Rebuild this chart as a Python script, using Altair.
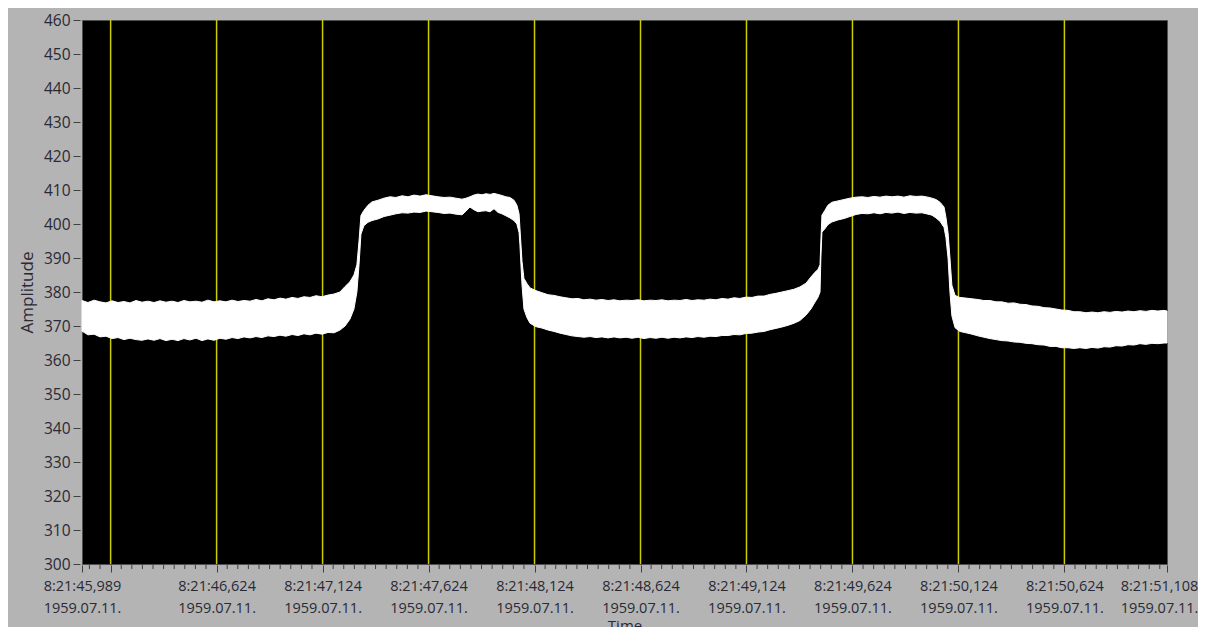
import altair as alt
import pandas as pd

# time of each sample, milliseconds after 8:21:00 (1959.07.11.)
t_ms = [45989, 46017, 46046, 46074, 46102, 46131, 46159, 46187, 46215, 46244,
        46272, 46300, 46329, 46357, 46385, 46414, 46442, 46470, 46498, 46527,
        46555, 46583, 46612, 46640, 46668, 46697, 46725, 46753, 46782, 46810,
        46838, 46866, 46895, 46923, 46951, 46980, 47008, 47036, 47065, 47093,
        47121, 47150, 47178, 47206, 47230, 47253, 47272, 47286, 47296, 47305,
        47319, 47338, 47357, 47386, 47414, 47442, 47470, 47499, 47527, 47555,
        47584, 47612, 47640, 47669, 47697, 47725, 47753, 47782, 47801, 47819,
        47838, 47857, 47876, 47895, 47914, 47933, 47952, 47970, 47989, 48008,
        48027, 48041, 48051, 48055, 48060, 48065, 48074, 48088, 48103, 48131,
        48159, 48188, 48216, 48244, 48272, 48301, 48329, 48357, 48386, 48414,
        48442, 48471, 48499, 48527, 48556, 48584, 48612, 48640, 48669, 48697,
        48725, 48754, 48782, 48810, 48839, 48867, 48895, 48924, 48952, 48980,
        49008, 49037, 49065, 49093, 49122, 49150, 49178, 49207, 49235, 49263,
        49291, 49320, 49348, 49376, 49405, 49428, 49447, 49461, 49471, 49475,
        49480, 49494, 49508, 49527, 49556, 49584, 49612, 49641, 49669, 49697,
        49725, 49754, 49782, 49810, 49839, 49867, 49895, 49924, 49952, 49980,
        49999, 50018, 50037, 50056, 50065, 50075, 50084, 50093, 50108, 50131,
        50160, 50188, 50216, 50244, 50273, 50301, 50329, 50358, 50386, 50414,
        50443, 50471, 50499, 50528, 50556, 50584, 50612, 50641, 50669, 50697,
        50726, 50754, 50782, 50811, 50839, 50867, 50896, 50924, 50952, 50980,
        51009, 51037, 51065, 51094, 51108]

# upper envelope of the amplitude trace
upper = [377.5, 376.9, 377.6, 377.1, 376.8, 377.4, 376.9, 377.2, 376.8, 377.5,
         377.0, 377.3, 376.9, 377.4, 377.0, 377.3, 376.9, 377.5, 377.1, 377.3,
         377.0, 377.6, 377.1, 377.4, 377.1, 377.6, 377.2, 377.5, 377.3, 377.8,
         377.4, 378.0, 377.7, 378.2, 377.9, 378.4, 378.1, 378.6, 378.4, 378.9,
         378.6, 379.1, 379.4, 380.0, 381.6, 383.0, 385.0, 388.0, 395.0, 402.5,
         404.0, 405.5, 406.5, 407.0, 407.6, 408.0, 407.8, 408.3, 408.0, 408.5,
         408.2, 408.6, 408.3, 408.0, 407.8, 407.9, 407.6, 407.3, 407.6, 408.0,
         408.5, 408.8, 408.6, 408.9, 408.7, 409.0, 408.7, 408.4, 408.0, 407.8,
         407.0, 405.5, 403.0, 399.0, 394.0, 389.0, 384.0, 382.5, 381.2, 380.4,
         379.8, 379.2, 379.0, 378.6, 378.3, 378.0, 378.1, 377.7, 377.9, 377.6,
         377.8, 377.5, 377.7, 377.4, 377.6, 377.5, 377.7, 377.4, 377.6, 377.5,
         377.7, 377.4, 377.6, 377.5, 377.8, 377.5, 377.7, 377.6, 377.9, 377.7,
         378.1, 377.9, 378.3, 378.1, 378.5, 378.4, 378.8, 378.8, 379.3, 379.6,
         380.0, 380.4, 380.8, 381.5, 382.6, 384.4, 385.8, 386.6, 388.0, 395.0,
         402.6, 404.0, 405.5, 406.4, 406.8, 407.2, 407.6, 407.9, 408.0, 407.8,
         408.1, 407.9, 408.2, 408.0, 408.2, 407.9, 408.3, 408.1, 408.2, 407.9,
         407.6, 407.2, 406.4, 405.0, 402.0, 397.4, 390.0, 382.0, 379.0, 378.4,
         378.2, 378.0, 377.8, 377.5, 377.5, 377.1, 377.1, 376.7, 376.8, 376.4,
         376.3, 375.9, 375.8, 375.4, 375.3, 375.0, 374.7, 374.6, 374.2, 374.2,
         373.9, 374.1, 373.9, 374.2, 374.0, 374.3, 374.1, 374.4, 374.2, 374.5,
         374.3, 374.6, 374.4, 374.6, 374.4]

# lower envelope of the amplitude trace
lower = [368.5, 367.4, 367.6, 366.8, 367.0, 366.3, 366.6, 366.0, 366.4, 366.0,
         365.8, 366.2, 365.8, 366.3, 365.7, 366.1, 365.7, 366.3, 365.9, 366.4,
         365.7, 366.2, 365.8, 366.4, 366.1, 366.6, 366.3, 366.8, 366.5, 366.9,
         366.6, 367.1, 366.9, 367.3, 367.0, 367.5, 367.2, 367.7, 367.4, 367.9,
         367.6, 368.1, 368.0, 368.8, 370.0, 372.0, 375.0, 380.0, 388.0, 397.0,
         399.5, 400.5, 401.0, 401.5, 402.2, 402.6, 403.0, 403.3, 403.2, 403.5,
         403.4, 403.8, 403.6, 403.4, 403.1, 403.2, 402.9, 402.7, 403.8, 405.0,
         404.2, 403.6, 403.8, 403.9, 403.6, 404.5, 403.4, 403.0, 402.4, 401.8,
         401.0, 400.0, 397.5, 394.0, 388.0, 382.0, 375.0, 372.5, 370.8, 369.8,
         369.4, 368.8, 368.4, 367.9, 367.5, 367.1, 366.9, 366.7, 366.9, 366.6,
         366.8, 366.5, 366.8, 366.5, 366.7, 366.4, 366.7, 366.3, 366.6, 366.4,
         366.7, 366.4, 366.7, 366.5, 366.8, 366.6, 366.9, 366.7, 367.0, 366.9,
         367.2, 367.2, 367.5, 367.4, 367.8, 367.9, 368.2, 368.4, 368.9, 369.3,
         369.7, 370.2, 370.8, 371.6, 373.2, 375.0, 377.0, 378.4, 380.0, 390.0,
         397.6, 398.6, 399.8, 400.6, 401.2, 401.6, 402.2, 402.8, 403.1, 403.0,
         403.3, 403.0, 403.4, 403.2, 403.5, 403.1, 403.4, 403.2, 403.3, 402.9,
         402.6, 401.8, 400.8, 399.0, 396.0, 390.0, 380.0, 373.0, 369.5, 368.4,
         368.0, 367.6, 367.1, 366.7, 366.3, 366.0, 365.7, 365.6, 365.3, 365.2,
         364.9, 364.8, 364.5, 364.4, 364.0, 364.0, 363.6, 363.6, 363.4, 363.6,
         363.4, 363.7, 363.5, 363.9, 363.8, 364.2, 364.1, 364.5, 364.4, 364.8,
         364.6, 364.9, 364.8, 365.0, 365.0]

# axis ticks (seconds after 8:21:00)
major_ticks = [45.989, 46.124, 46.624, 47.124, 47.624, 48.124, 48.624, 49.124,
               49.624, 50.124, 50.624, 51.108]
tick_labels = ["8:21:45,989", "", "8:21:46,624", "8:21:47,124", "8:21:47,624",
               "8:21:48,124", "8:21:48,624", "8:21:49,124", "8:21:49,624",
               "8:21:50,124", "8:21:50,624", "8:21:51,108"]
date_label = "1959.07.11."
grid_lines = [46.124, 46.624, 47.124, 47.624, 48.124, 48.624, 49.124, 49.624,
              50.124, 50.624]
minor_ticks = [46.024, 46.074, 46.174, 46.224, 46.274, 46.324, 46.374, 46.424,
               46.474, 46.524, 46.574, 46.674, 46.724, 46.774, 46.824, 46.874,
               46.924, 46.974, 47.024, 47.074, 47.174, 47.224, 47.274, 47.324,
               47.374, 47.424, 47.474, 47.524, 47.574, 47.674, 47.724, 47.774,
               47.824, 47.874, 47.924, 47.974, 48.024, 48.074, 48.174, 48.224,
               48.274, 48.324, 48.374, 48.424, 48.474, 48.524, 48.574, 48.674,
               48.724, 48.774, 48.824, 48.874, 48.924, 48.974, 49.024, 49.074,
               49.174, 49.224, 49.274, 49.324, 49.374, 49.424, 49.474, 49.524,
               49.574, 49.674, 49.724, 49.774, 49.824, 49.874, 49.924, 49.974,
               50.024, 50.074, 50.174, 50.224, 50.274, 50.324, 50.374, 50.424,
               50.474, 50.524, 50.574, 50.674, 50.724, 50.774, 50.824, 50.874,
               50.924, 50.974, 51.024, 51.074]
y_ticks = [300, 310, 320, 330, 340, 350, 360, 370, 380, 390, 400, 410, 420,
           430, 440, 450, 460]

sig = pd.DataFrame({"t": [v / 1000 for v in t_ms], "upper": upper, "lower": lower})
grid_df = pd.DataFrame({"t": grid_lines})
minor_df = pd.DataFrame({"t": minor_ticks})

expr = "''"
for v, lab in reversed(list(zip(major_ticks, tick_labels))):
    if lab:
        expr = f"abs(datum.value - {v}) < 0.0005 ? ['{lab}', '{date_label}'] : ({expr})"

FONT = "Open Sans"
TXT = "#2a2a34"

x_enc = alt.X(
    "t:Q",
    scale=alt.Scale(domain=[45.989, 51.108], nice=False, zero=False),
    axis=alt.Axis(
        values=major_ticks, labelExpr=expr, title="Time", grid=False,
        domain=False, tickSize=7, tickColor="#404040", offset=1,
        labelFlush=False, labelOverlap=False, labelFont=FONT, labelFontSize=14.5,
        labelColor=TXT, labelLineHeight=22, labelPadding=7,
        labelOffset={"condition": {"test": "datum.value > 51", "value": -8}, "value": 0},
        titleFont=FONT, titleFontSize=15, titleFontWeight="normal",
        titleColor=TXT, titlePadding=4,
    ),
)

y_enc = alt.Y(
    "upper:Q",
    scale=alt.Scale(domain=[300, 460], nice=False, zero=False),
    axis=alt.Axis(
        values=y_ticks, title="Amplitude", grid=False, domain=False,
        tickSize=7, tickColor="#404040", offset=2, labelPadding=3,
        labelFont=FONT, labelFontSize=15.5, labelColor=TXT,
        titleFont=FONT, titleFontSize=17, titleFontWeight="normal",
        titleColor=TXT, titlePadding=7,
    ),
)

grid = alt.Chart(grid_df).mark_rule(color="#cccc00", strokeWidth=1.5).encode(x=x_enc)
area = alt.Chart(sig).mark_area(color="white", stroke="white", strokeWidth=1,
                                interpolate="linear").encode(x=x_enc, y=y_enc, y2="lower:Q")
minor = alt.Chart(minor_df).mark_rule(color="#404040", strokeWidth=1).encode(
    x=x_enc, y=alt.value(545), y2=alt.value(549))

chart = alt.layer(grid, area, minor).properties(
    width=1085, height=544,
    autosize=alt.AutoSizeParams(type="none"),
    padding={"left": 74, "top": 12, "right": 31, "bottom": 63},
    background="#b4b4b4",
).configure_view(fill="black", stroke="#505050", strokeWidth=1)

chart.save("out.html", embed_options={"renderer": "svg", "actions": False})
